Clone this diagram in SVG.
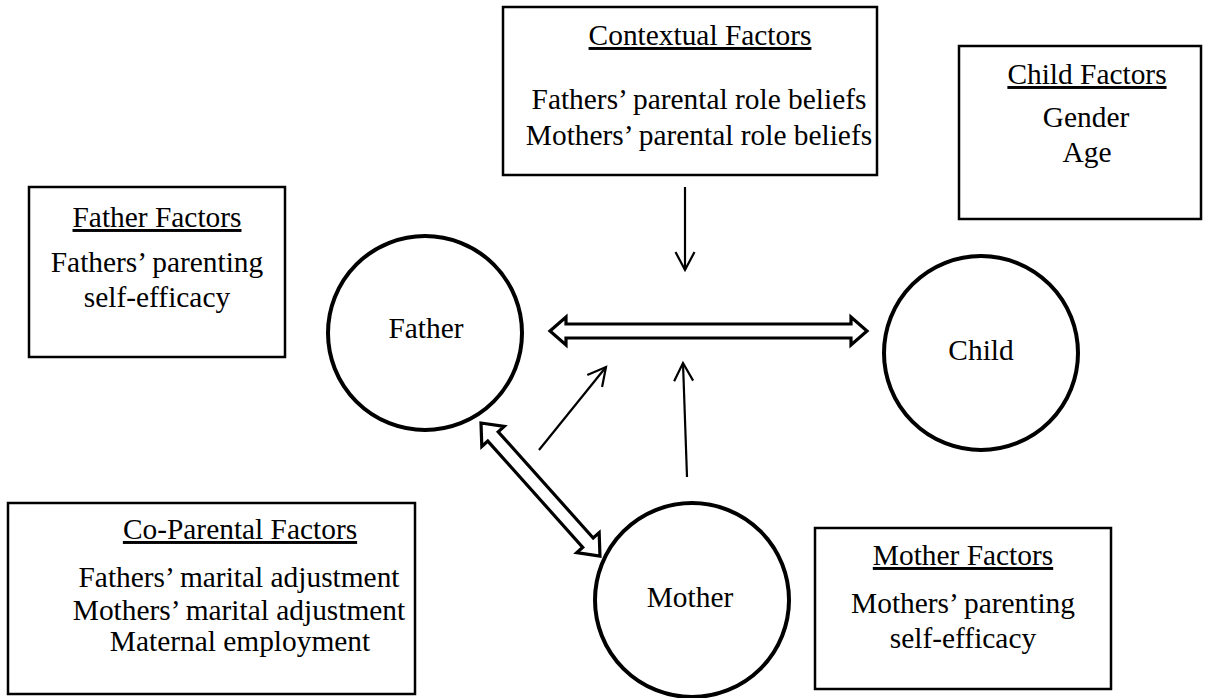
<svg xmlns="http://www.w3.org/2000/svg" width="1213" height="698" viewBox="0 0 1213 698">
  <style>
    .box { fill: #ffffff; stroke: #000000; stroke-width: 2.5; }
    .node { fill: #ffffff; stroke: #000000; stroke-width: 4; }
    .t { font-family: "Liberation Serif", "Times New Roman", serif; font-size: 29.4px; fill: #000000; text-anchor: middle; }
    .h { text-decoration: underline; }
    .thin { fill: none; stroke: #000000; stroke-width: 2.2; }
    .dbl { fill: #ffffff; stroke: #000000; stroke-width: 3.2; stroke-linejoin: miter; }
  </style>
  <defs>
    <marker id="vhead" markerUnits="userSpaceOnUse" markerWidth="24" markerHeight="24" viewBox="-20 -12 24 24" refX="0" refY="0" orient="auto">
      <path d="M-18,-9.5 L0,0 L-18,9.5" fill="none" stroke="#000000" stroke-width="2.2"/>
    </marker>
  </defs>

  <rect width="1213" height="698" fill="#ffffff"/>

  <!-- factor boxes -->
  <g id="contextual-factors">
    <rect class="box" x="503" y="7" width="374" height="168"/>
    <text class="t h" x="700" y="45">Contextual Factors</text>
    <text class="t" x="699" y="109">Fathers’ parental role beliefs</text>
    <text class="t" x="699" y="145">Mothers’ parental role beliefs</text>
  </g>

  <g id="child-factors">
    <rect class="box" x="959" y="46" width="242" height="173"/>
    <text class="t h" x="1087" y="84">Child Factors</text>
    <text class="t" x="1086" y="127">Gender</text>
    <text class="t" x="1087" y="162">Age</text>
  </g>

  <g id="father-factors">
    <rect class="box" x="29" y="187" width="256" height="170"/>
    <text class="t h" x="157" y="227">Father Factors</text>
    <text class="t" x="157" y="272">Fathers’ parenting</text>
    <text class="t" x="157" y="307">self-efficacy</text>
  </g>

  <g id="coparental-factors">
    <rect class="box" x="8" y="503" width="407" height="191"/>
    <text class="t h" x="240" y="539">Co-Parental Factors</text>
    <text class="t" x="239" y="587">Fathers’ marital adjustment</text>
    <text class="t" x="239" y="620">Mothers’ marital adjustment</text>
    <text class="t" x="240" y="651">Maternal employment</text>
  </g>

  <g id="mother-factors">
    <rect class="box" x="815" y="528" width="296" height="161"/>
    <text class="t h" x="963" y="565">Mother Factors</text>
    <text class="t" x="963" y="613">Mothers’ parenting</text>
    <text class="t" x="963" y="648">self-efficacy</text>
  </g>

  <!-- family members -->
  <g id="father">
    <circle class="node" cx="425" cy="333" r="97"/>
    <text class="t" x="426" y="338">Father</text>
  </g>

  <g id="child">
    <circle class="node" cx="981" cy="353" r="97"/>
    <text class="t" x="981" y="360">Child</text>
  </g>

  <g id="mother">
    <circle class="node" cx="692" cy="600" r="97"/>
    <text class="t" x="690" y="607">Mother</text>
  </g>

  <!-- connectors -->
  <g id="connectors">
    <!-- father-child relationship (two-headed hollow arrow) -->
    <path class="dbl" transform="translate(550,331)"
          d="M0,0 L16,-14 L16,-7 L301,-7 L301,-14 L317,0 L301,14 L301,7 L16,7 L16,14 Z"/>
    <!-- father-mother relationship (two-headed hollow arrow) -->
    <path class="dbl" transform="translate(481,423) rotate(48.2)"
          d="M0,0 L18,-15 L18,-7 L160.5,-7 L160.5,-15 L178.5,0 L160.5,15 L160.5,7 L18,7 L18,15 Z"/>
    <!-- contextual factors acting on the father-child link -->
    <line class="thin" x1="685" y1="187" x2="685" y2="270" marker-end="url(#vhead)"/>
    <!-- mother acting on the father-child link -->
    <line class="thin" x1="687" y1="477" x2="683" y2="363" marker-end="url(#vhead)"/>
    <!-- co-parenting acting on the father-child link -->
    <line class="thin" x1="539" y1="450" x2="606" y2="367" marker-end="url(#vhead)"/>
  </g>
</svg>
